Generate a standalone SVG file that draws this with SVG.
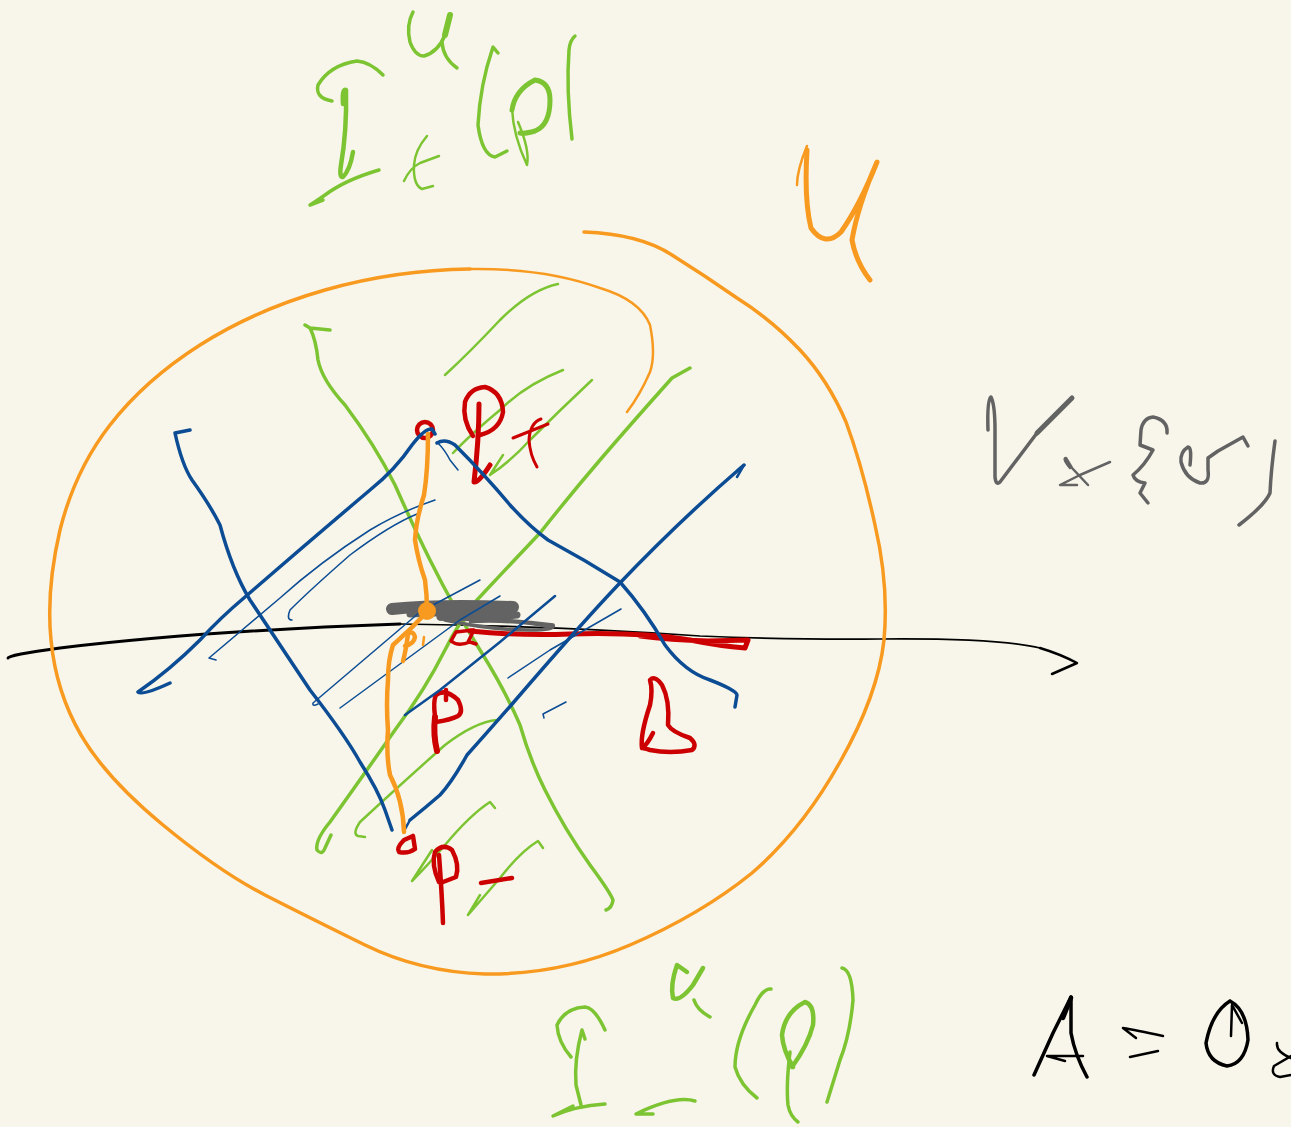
<svg xmlns="http://www.w3.org/2000/svg" width="1291" height="1127" viewBox="0 0 1291 1127">
<style>
path,circle{fill:none;stroke-linecap:round;stroke-linejoin:round}
.g{stroke:#7dc433}.o{stroke:#f89a20}.b{stroke:#0b4c94}.r{stroke:#cc0000}.k{stroke:#000}.y{stroke:#636363}
.w1{stroke-width:1.5}.w2{stroke-width:2.5}.w3{stroke-width:3.5}.w4{stroke-width:4.5}.w5{stroke-width:6}
</style>
<rect width="1291" height="1127" fill="#f8f6ea"/>
<g id="axis">
<path class="k w3" style="stroke-width:3" d="M8 658Q8 655 60 648Q200 631 400 624"/>
<path class="k w1" style="stroke-width:1.7" d="M400 624Q560 626 700 636Q800 640 880 639Q1000 638 1040 648"/>
<path class="k w2" d="M1040 648Q1060 654 1077 663L1052 674"/>
</g>
<g id="green-curves">
<path class="g w3" d="M305 325L310 328L330 330M310 328Q316 340 318 360Q322 380 345 405Q375 445 395 485Q415 530 430 560Q455 610 480 650Q505 690 520 725Q530 760 545 790Q565 830 590 865Q610 892 613 900Q612 908 606 910"/>
<path class="g w3" d="M690 368L672 378Q630 425 600 460Q570 495 540 533Q505 570 477 600Q460 620 445 650Q425 690 395 730Q360 780 330 822Q315 840 317 850Q322 856 325 848L331 835"/>
<path class="g w2" d="M558 284Q530 290 500 320Q470 352 445 375"/>
<path class="g w2" d="M563 370Q525 385 500 410Q470 435 453 453"/>
<path class="g w2" d="M592 380Q560 410 530 440Q510 462 490 475L503 455"/>
<path class="g w2" d="M497 720Q475 722 445 745Q400 785 360 822Q352 834 358 836L365 837"/>
<path class="g w2" d="M495 808L490 802Q470 815 445 845Q428 865 412 881L432 850"/>
<path class="g w2" d="M543 848L538 841Q520 852 500 878L468 915L480 895"/>
</g>
<g id="red-marks">
<path class="r w5" style="stroke-width:5" d="M470 631Q520 636 570 634Q640 632 690 640Q720 646 745 648L748 640L708 641Q670 640 640 636"/>
<path class="r w3" d="M473 630L456 632L451 641Q458 647 470 642L476 644M474 630L468 642"/>
<circle class="r w4" cx="425" cy="430" r="8"/>
<path class="r w5" style="stroke-width:5" d="M479 404Q479 440 474 482Q478 484 490 465"/>
<path class="r w4" d="M473 436Q462 420 465 402Q470 388 485 387Q502 392 503 412Q500 430 480 435"/>
<path class="r w3" style="stroke-width:3" d="M513 438L548 424M541 419Q530 423 529 440Q530 455 537 467"/>
<path class="r w5" d="M437 751Q433 735 435 717"/>
<path class="r w4" d="M435 717Q433 700 436 695Q445 688 458 700Q464 712 458 716Q450 720 436 722M446 690L446 700"/>
<path class="r w4" d="M653 733Q647 745 642 748Q640 735 650 705Q653 690 650 680Q655 675 662 685Q670 700 668 725Q672 732 690 738Q698 745 692 750Q670 754 650 750Q644 748 642 748"/>
<path class="r w4" d="M413 836L404 840Q396 848 399 852Q408 854 415 849L413 836"/>
<path class="r w4" d="M443 923Q442 895 439 855"/>
<path class="r w4" d="M439 882Q431 865 435 852Q443 843 452 850Q460 865 456 877L443 882"/>
<path class="r w4" d="M481 883L512 878"/>
</g>
<g id="gray-scribble">
<path class="y" style="stroke-width:12" d="M392 609Q440 604 513 607"/>
<path class="y" style="stroke-width:7" d="M410 614Q470 611 517 615Q470 619 440 617"/>
<path class="y w3" d="M440 619Q500 618 553 625Q556 630 530 630Q490 630 445 620"/>
<path class="y w2" d="M470 622Q520 620 552 628"/>
</g>
<g id="blue-curves">
<path class="b w3" d="M190 430L175 433Q182 465 192 480Q210 505 220 525Q232 570 250 600Q280 645 310 690Q345 735 360 762Q378 790 385 810L392 830"/>
<path class="b w3" d="M138 692Q142 696 170 683M138 692Q170 670 200 640Q220 618 245 597Q305 545 370 490Q395 470 412 445Q425 428 432 429L435 434"/>
<path class="b w3" d="M437 443Q445 438 455 445Q485 475 510 505Q530 527 548 540Q585 560 620 582Q645 610 665 645Q685 672 710 680Q736 690 737 695L735 707"/>
<path class="b w1" d="M437 442Q445 450 450 460L458 470"/>
<path class="b w3" d="M744 465Q680 520 618 585Q580 625 513 703Q485 735 467 755Q452 782 440 795Q425 808 410 820"/>
<path class="b w2" d="M410 820L404 831M738 470L744 465L737 477"/>
<path class="b w1" d="M435 500Q400 512 370 530Q320 562 280 598L209 658L216 660"/>
<path class="b w1" d="M417 514Q390 525 350 555Q310 590 290 610Q286 620 292 620"/>
<path class="b w1" d="M480 580L420 612L313 703Q312 707 318 704"/>
<path class="b w1" d="M500 596L460 620L340 708"/>
<path class="b w2" d="M555 596L500 642L440 690L405 715"/>
<path class="b w1" d="M621 609L550 650L508 678"/>
<path class="b w1" d="M566 702L543 714L544 718"/>
</g>
<g id="orange-curves">
<path class="o w3" d="M584 232Q640 234 672 255Q704 275 737 298Q772 320 800 350Q828 380 846 422Q862 465 875 525Q889 585 884 640Q878 695 840 762Q802 830 752 873Q700 915 630 945Q560 975 485 974Q420 972 365 945Q310 918 265 895Q220 872 163 825Q106 778 81 735Q56 692 51 640Q46 590 60 530Q75 470 110 425Q145 380 200 345Q255 310 325 290Q395 270 470 269"/>
<path class="o w2" d="M470 269Q545 268 600 288Q640 300 650 325Q656 355 650 372Q640 395 627 412"/>
<path class="o w4" d="M428 434Q428 470 424 495Q416 520 415 540Q418 560 425 580Q427 595 427 611"/>
<circle cx="427" cy="611" r="9" style="fill:#f89a20;stroke:none"/>
<path class="o w4" d="M427 612Q410 630 393 645Q388 660 388 680Q386 705 388 730Q386 755 390 775Q403 800 404 832"/>
<path class="o w4" d="M403 661Q406 650 408 634Q413 630 415 637Q414 644 405 646"/>
<path class="o w2" d="M424 637L423 645"/>
<path class="o w2" d="M807 146Q797 170 797 185"/>
<path class="o w4" style="stroke-width:5" d="M807 150Q804 200 811 228Q825 248 841 232Q860 205 877 162Q858 205 852 240Q856 262 870 280"/>
</g>
<g id="label-top-green">
<path class="g w3" d="M383 75Q370 62 357 61Q330 65 318 85Q315 98 332 101"/>
<path class="g w4" d="M343 104Q342 88 346 90Q347 130 341 165Q339 178 343 177Q350 170 353 152"/>
<path class="g w3" d="M379 170Q345 180 325 195Q315 202 310 205L323 200"/>
<path class="g w3" d="M413 12Q406 25 410 42Q415 56 424 56Q438 52 445 35"/>
<path class="g w5" d="M445 35L450 15"/>
<path class="g w3" d="M442 42Q443 58 457 68"/>
<path class="g w2" d="M427 136Q415 150 414 165Q413 185 422 189L433 186M404 181Q410 168 420 163L439 156"/>
<path class="g w3" d="M498 53L493 47Q480 85 478 125Q482 155 495 157L507 151"/>
<path class="g w5" style="stroke-width:5" d="M512 110Q515 90 535 80Q550 82 550 100Q550 125 535 131Q525 134 520 133"/>
<path class="g w2" d="M512 108Q513 135 527 165Q530 150 518 122"/>
<path class="g w3" d="M575 36Q570 40 569 50Q566 90 572 139"/>
</g>
<g id="label-bottom-green">
<path class="g w3" d="M605 1030Q595 1008 585 1007Q565 1008 557 1025Q558 1042 571 1057"/>
<path class="g w3" d="M585 1039L582 1030Q574 1060 576 1085L581 1105"/>
<path class="g w3" d="M605 1104Q575 1106 553 1116L573 1106"/>
<path class="g w4" d="M687 972L677 965Q670 985 673 998Q680 1002 693 985L703 968"/>
<path class="g w3" d="M694 1000Q697 1010 710 1017"/>
<path class="g w3" d="M695 1101Q675 1095 636 1114L653 1114"/>
<path class="g w3" d="M771 989Q763 988 755 1005Q735 1040 735 1067Q740 1085 757 1098"/>
<path class="g w4" d="M793 1067Q783 1050 782 1035Q785 1012 805 1002Q815 1005 813 1025Q808 1045 792 1067"/>
<path class="g w3" d="M790 1052Q786 1085 788 1105Q790 1116 798 1122"/>
<path class="g w3" d="M842 968Q852 970 853 1000Q850 1035 840 1060L827 1102"/>
</g>
<g id="label-right-gray">
<path class="y w3" d="M988 430Q987 400 991 397Q995 405 995 430L995 477Q996 486 1000 482L1037 433"/>
<path class="y w5" style="stroke-width:5" d="M1037 433L1072 398"/>
<path class="y w2" d="M1070 468Q1062 458 1066 458L1072 468L1088 485M1110 462L1080 475L1060 485L1077 485"/>
<path class="y w3" d="M1167 433Q1168 420 1153 417Q1143 418 1141 430L1140 445L1153 450Q1145 465 1133 475Q1135 482 1145 483L1140 493L1148 503"/>
<path class="y w3" d="M1190 465Q1192 447 1188 447Q1180 452 1181 462Q1185 478 1200 483Q1210 484 1208 470L1208 458L1218 451L1243 437L1248 446"/>
<path class="y w3" d="M1275 441Q1271 470 1270 493Q1265 505 1239 525"/>
</g>
<g id="label-right-black">
<path class="k w3" d="M1034 1075L1053 1033L1071 997"/>
<path class="k w3" d="M1071 997L1071 1033Q1075 1055 1087 1077"/>
<path class="k w4" d="M1063 1018L1071 998"/>
<path class="k w2" d="M1083 1056L1047 1056L1065 1061"/>
<path class="k w2" d="M1163 1036Q1135 1030 1123 1028L1136 1038"/>
<path class="k w2" d="M1158 1051L1130 1057"/>
<path class="k w3" d="M1230 1001Q1212 1012 1206 1043Q1208 1062 1227 1066Q1244 1064 1248 1040Q1247 1010 1230 1001"/>
<path class="k w2" d="M1231 1036L1232 1005L1242 1023"/>
<path class="k w2" d="M1277 1043Q1276 1052 1291 1058M1291 1056L1274 1066Q1270 1075 1280 1077L1291 1075"/>
</g>
</svg>
